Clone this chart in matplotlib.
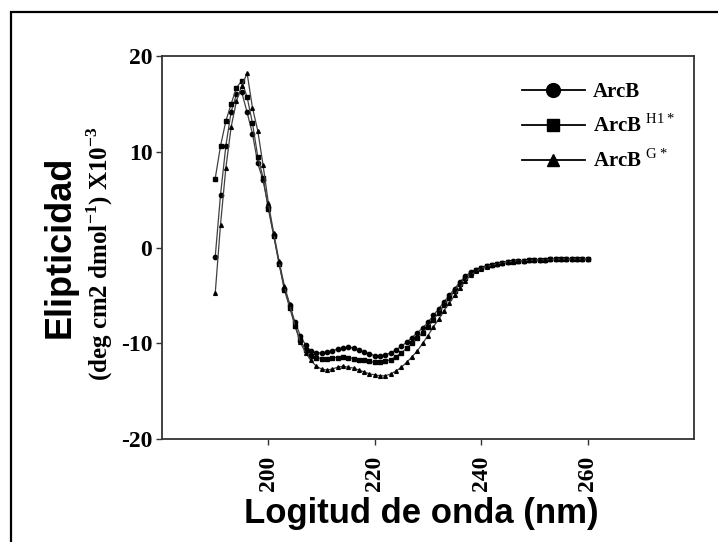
import numpy as np
import matplotlib
matplotlib.use("Agg")
import matplotlib.pyplot as plt
from matplotlib.patches import Rectangle

plt.rcParams['mathtext.fontset'] = 'custom'
plt.rcParams['mathtext.rm'] = 'Liberation Serif'
plt.rcParams['mathtext.bf'] = 'Liberation Serif:bold'

wavelength = list(range(190, 261))

arcb = [-1.0, 5.5, 10.6, 14.2, 16.0, 16.2, 14.1, 11.9, 8.8, 7.0,
        4.2, 1.3, -1.6, -4.3, -6.0, -7.8, -9.2, -10.2, -10.8, -11.0,
        -11.0, -10.9, -10.8, -10.6, -10.5, -10.4, -10.5, -10.7, -10.9, -11.1,
        -11.3, -11.3, -11.2, -11.0, -10.7, -10.3, -9.9, -9.4, -8.9, -8.4,
        -7.8, -7.1, -6.4, -5.7, -5.0, -4.3, -3.6, -3.0, -2.6, -2.3,
        -2.1, -1.9, -1.8, -1.7, -1.6, -1.5, -1.45, -1.4, -1.4, -1.35,
        -1.3, -1.3, -1.3, -1.25, -1.25, -1.2, -1.2, -1.2, -1.2, -1.2, -1.2]

arcb_h1 = [7.2, 10.6, 13.2, 15.0, 16.7, 17.4, 15.7, 13.0, 9.5, 7.3,
           4.0, 1.2, -1.7, -4.4, -6.3, -8.2, -9.7, -10.7, -11.3, -11.5,
           -11.6, -11.6, -11.5, -11.5, -11.4, -11.5, -11.6, -11.7, -11.8, -11.9,
           -12.0, -12.0, -11.9, -11.7, -11.4, -11.0, -10.5, -10.0, -9.5, -8.9,
           -8.3, -7.6, -6.8, -6.0, -5.3, -4.5, -3.8, -3.2, -2.7, -2.4,
           -2.1, -1.95, -1.8, -1.7, -1.6, -1.55, -1.5, -1.45, -1.4, -1.35,
           -1.3, -1.3, -1.3, -1.25, -1.25, -1.2, -1.2, -1.2, -1.2, -1.2, -1.2]

arcb_g = [-4.8, 2.4, 8.3, 12.6, 15.3, 16.9, 18.2, 14.6, 12.2, 8.6,
          4.6, 1.5, -1.4, -4.0, -5.9, -8.2, -9.9, -11.0, -11.8, -12.4,
          -12.7, -12.8, -12.7, -12.5, -12.4, -12.5, -12.6, -12.8, -13.0, -13.2,
          -13.3, -13.4, -13.4, -13.2, -12.9, -12.5, -12.0, -11.4, -10.8, -10.0,
          -9.2, -8.3, -7.5, -6.6, -5.8, -5.0, -4.2, -3.5, -2.9, -2.5,
          -2.2, -2.0, -1.85, -1.7, -1.6, -1.5, -1.45, -1.4, -1.4, -1.35,
          -1.3, -1.3, -1.3, -1.25, -1.25, -1.2, -1.2, -1.2, -1.2, -1.2, -1.2]

x_ticks = [200, 220, 240, 260]
y_ticks = [-20, -10, 0, 10, 20]
labels = ["ArcB", r"ArcB $^{\rm H1*}$", r"ArcB $^{\rm G*}$"]

fig = plt.figure(figsize=(7.18, 5.42), dpi=100)
ax = fig.add_axes([162/718, 1-439/542, (694-162)/718, (439-56)/542])

line_col = '#404040'
ax.plot(wavelength, arcb, color=line_col, lw=0.9, marker='o', ms=3.1,
        mfc='black', mec='black', label=labels[0])
ax.plot(wavelength, arcb_h1, color=line_col, lw=0.9, marker='s', ms=2.9,
        mfc='black', mec='black', label=labels[1])
ax.plot(wavelength, arcb_g, color=line_col, lw=0.9, marker='^', ms=2.7,
        mfc='black', mec='black', label=labels[2])

ax.set_xlim(180, 280)
ax.set_ylim(-20, 20)
ax.set_xticks(x_ticks)
ax.set_yticks(y_ticks)
ax.set_xticklabels([str(v) for v in x_ticks], rotation=90,
                   fontfamily='Liberation Serif', fontweight='bold', fontsize=17)
ax.set_yticklabels([str(v) for v in y_ticks],
                   fontfamily='Liberation Serif', fontweight='bold', fontsize=17)
ax.tick_params(axis='both', direction='out', length=4, width=1, color='#333333')
ax.tick_params(axis='x', pad=8)
ax.tick_params(axis='y', pad=3)
for s in ax.spines.values():
    s.set_color('#333333')
    s.set_linewidth(1.3)

leg = ax.legend(loc='upper left', bbox_to_anchor=((522-162)/532, (439-82)/383),
                frameon=False, borderaxespad=0, borderpad=0,
                handlelength=3.0, handletextpad=0.4, labelspacing=0.6,
                markerscale=3.2,
                prop={'family': 'Liberation Serif', 'weight': 'bold', 'size': 15})
for h in leg.legend_handles:
    h.set_color('black')
    h.set_linewidth(1.3)

fig.text(60/718, 1-247/542, "Elipticidad", rotation=90, ha='center', va='center',
         fontfamily='Liberation Sans', fontweight='bold', fontsize=26)
fig.text(100/718, 1-254/542, r"(deg cm2 dmol$^{\mathbf{-1}}$) X10$^{\mathbf{-3}}$",
         rotation=90, ha='center', va='center',
         fontfamily='Liberation Serif', fontweight='bold', fontsize=18)
fig.text(421/718, 1-514/542, "Logitud de onda (nm)", ha='center', va='center',
         fontfamily='Liberation Sans', fontweight='bold', fontsize=25)

fig.add_artist(Rectangle((11/718, -0.2), 1.2, (1-12/542)+0.2, fill=False,
                         lw=1.6, ec='black', transform=fig.transFigure, clip_on=False))

fig.savefig("out.png", dpi=100)
